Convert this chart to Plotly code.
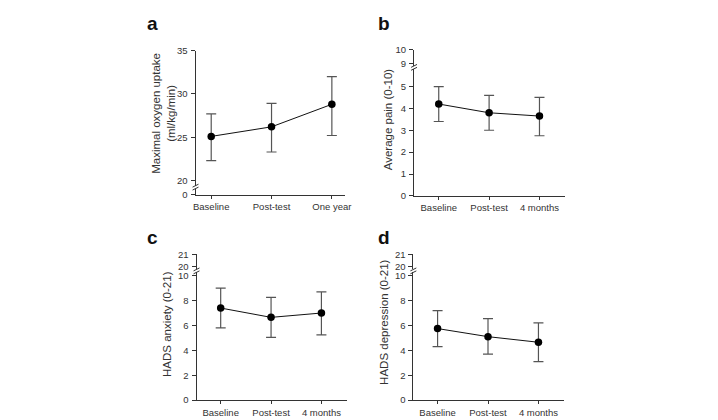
import plotly.graph_objects as go

W, H = 718, 420

# ---------------- data ----------------
cats_a = ["Baseline", "Post-test", "One year"]
cats_bcd = ["Baseline", "Post-test", "4 months"]

vo2_mean = [25.1, 26.2, 28.8]
vo2_low = [22.3, 23.3, 25.2]
vo2_high = [27.7, 28.9, 32.0]

pain_mean = [4.2, 3.8, 3.65]
pain_low = [3.4, 3.0, 2.75]
pain_high = [5.0, 4.6, 4.5]

anx_mean = [7.4, 6.65, 7.0]
anx_low = [5.8, 5.05, 5.25]
anx_high = [9.0, 8.25, 8.7]

dep_mean = [5.75, 5.1, 4.65]
dep_low = [4.3, 3.7, 3.1]
dep_high = [7.2, 6.55, 6.2]

titles = ["Maximal oxygen uptake<br>(ml/kg/min)", "Average pain (0-10)",
          "HADS anxiety (0-21)", "HADS depression (0-21)"]
letters = ["a", "b", "c", "d"]

# ---------------- helpers ----------------
def fx(px):
    return px / W

def fy(py):
    return 1 - py / H

FONT = "Arial, Liberation Sans, Helvetica, sans-serif"
AX = "#333333"
TICKFONT = dict(family=FONT, size=9.5, color="#333333")

fig = go.Figure()

# panel specs: x domain px, x range, lower y (domain px bottom/top, range, ticks),
# upper y (domain px, range, ticks)
panels = [
    dict(cats=cats_a, mean=vo2_mean, low=vo2_low, high=vo2_high,
         xd=(195.7, 347), xr=(-0.26, 2.22),
         lo=dict(d=(194, 187.5), r=(0, 0.73), t=[0]),
         up=dict(d=(184.5, 45.7), r=(19.42, 35), t=[20, 25, 30, 35]),
         data_on="up"),
    dict(cats=cats_bcd, mean=pain_mean, low=pain_low, high=pain_high,
         xd=(416.7, 569), xr=(-0.49, 2.5),
         lo=dict(d=(195, 64.5), r=(0, 5.81), t=[0, 1, 2, 3, 4, 5]),
         up=dict(d=(61.5, 45), r=(8.82, 10), t=[9, 10]),
         data_on="lo"),
    dict(cats=cats_bcd, mean=anx_mean, low=anx_low, high=anx_high,
         xd=(196.7, 349), xr=(-0.48, 2.51),
         lo=dict(d=(404.7, 273.5), r=(0, 10.27), t=[0, 2, 4, 6, 8, 10]),
         up=dict(d=(270.5, 255), r=(19.76, 21), t=[20, 21]),
         data_on="lo"),
    dict(cats=cats_bcd, mean=dep_mean, low=dep_low, high=dep_high,
         xd=(416, 568.5), xr=(-0.48, 2.51),
         lo=dict(d=(404.7, 273.5), r=(0, 10.27), t=[0, 2, 4, 6, 8, 10]),
         up=dict(d=(270.5, 255), r=(19.76, 21), t=[20, 21]),
         data_on="lo"),
]

title_pos = [(162.5, 110), (390, 116.7), (166.7, 326.7), (386.7, 325)]
letter_pos = [(152, 18), (386.5, 18), (152.5, 238), (386, 237.5)]

layout = {}
shapes = []
annotations = []

for i, p in enumerate(panels):
    xi = i + 1
    ylo = 2 * i + 1
    yup = 2 * i + 2
    xname = "x" if xi == 1 else f"x{xi}"
    ylo_name = "y" if ylo == 1 else f"y{ylo}"
    yup_name = f"y{yup}"

    layout[f"xaxis{'' if xi == 1 else xi}"] = dict(
        domain=[fx(p["xd"][0]), fx(p["xd"][1])],
        range=list(p["xr"]), type="category",
        anchor=ylo_name, showline=True, linecolor=AX, linewidth=1,
        ticks="outside", ticklen=3, tickcolor=AX, tickwidth=1,
        showgrid=False, zeroline=False, tickfont=TICKFONT,
        categoryorder="array", categoryarray=p["cats"], fixedrange=True,
    )
    for name, idx in (("lo", ylo), ("up", yup)):
        s = p[name]
        layout[f"yaxis{'' if idx == 1 else idx}"] = dict(
            domain=[fy(s["d"][0]), fy(s["d"][1])],
            range=list(s["r"]), anchor=xname,
            showline=True, linecolor=AX, linewidth=1,
            ticks="outside", ticklen=4, tickcolor=AX, tickwidth=1,
            tickvals=s["t"], showgrid=False, zeroline=False,
            tickfont=TICKFONT, ticklabelstandoff=1, fixedrange=True,
        )

    target_y = yup_name if p["data_on"] == "up" else ylo_name
    other_y = ylo_name if p["data_on"] == "up" else yup_name
    plus = [h - m for h, m in zip(p["high"], p["mean"])]
    minus = [m - l for m, l in zip(p["mean"], p["low"])]
    fig.add_trace(go.Scatter(
        x=p["cats"], y=p["mean"], xaxis=xname, yaxis=target_y,
        mode="lines+markers",
        line=dict(color="#111111", width=1),
        marker=dict(color="#000000", size=7.5),
        error_y=dict(type="data", array=plus, arrayminus=minus,
                     color="#555555", thickness=1.2, width=5),
        showlegend=False, hoverinfo="skip",
    ))
    fig.add_trace(go.Scatter(x=[], y=[], xaxis=xname, yaxis=other_y,
                             showlegend=False, hoverinfo="skip"))

    # axis break marks
    ax_x = p["xd"][0]
    gap_lo = p["lo"]["d"][1] if p["data_on"] == "up" else p["lo"]["d"][1]
    gap_hi = p["up"]["d"][0]
    for yy in (gap_lo, gap_hi):
        shapes.append(dict(type="line", xref="paper", yref="paper",
                           x0=fx(ax_x - 3), x1=fx(ax_x + 3),
                           y0=fy(yy + 1.5), y1=fy(yy - 1.5),
                           line=dict(color=AX, width=1)))

    tx, ty = title_pos[i]
    annotations.append(dict(text=titles[i], x=fx(tx), y=fy(ty), xref="paper",
                            yref="paper", textangle=-90, showarrow=False,
                            xanchor="center", yanchor="middle",
                            font=dict(family=FONT, size=11.5, color="#333333")))
    lx, ly = letter_pos[i]
    annotations.append(dict(text=f"<b>{letters[i]}</b>", x=fx(lx), y=fy(ly),
                            xref="paper", yref="paper", showarrow=False,
                            xanchor="center", yanchor="middle",
                            font=dict(family=FONT, size=19, color="#111111")))

fig.update_layout(
    width=W, height=H, margin=dict(l=0, r=0, t=0, b=0),
    paper_bgcolor="white", plot_bgcolor="white",
    shapes=shapes, annotations=annotations, showlegend=False,
    **layout,
)

fig.write_html("out.html", config=dict(displayModeBar=False))
